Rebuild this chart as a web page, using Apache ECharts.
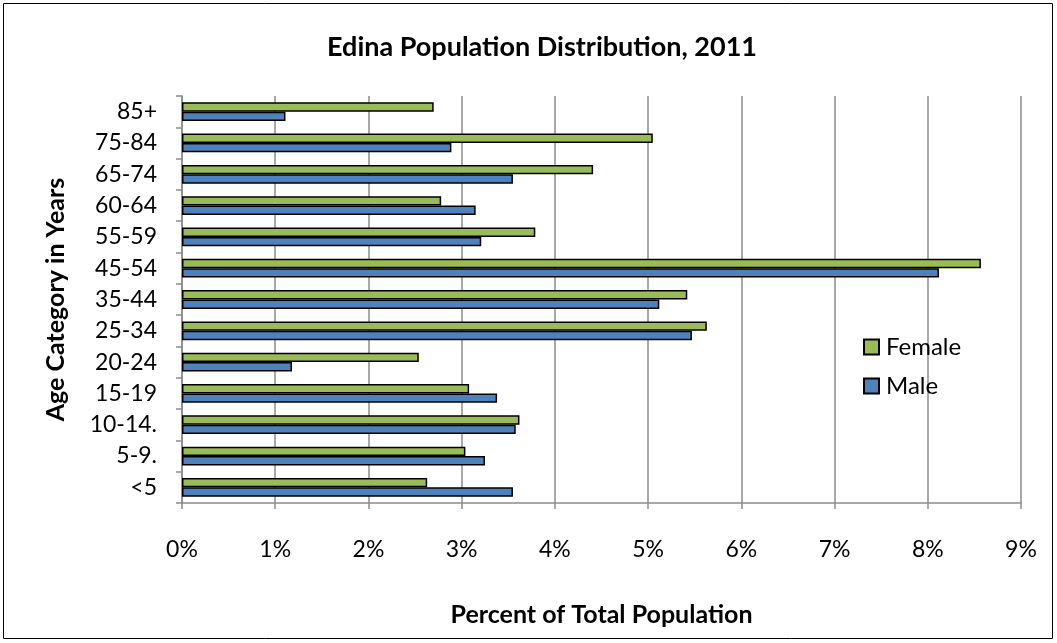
<!DOCTYPE html>
<html>
<head>
<meta charset="utf-8">
<script src="https://cdn.jsdelivr.net/npm/echarts@6/dist/echarts.min.js"></script>
<style>
  html, body { margin: 0; padding: 0; background: #fff; }
  #chart { width: 1057px; height: 643px; }
</style>
</head>
<body>
<div id="chart"></div>
<script>
// Age groups, bottom to top
const ageGroups = ['<5', '5-9.', '10-14.', '15-19', '20-24', '25-34', '35-44', '45-54', '55-59', '60-64', '65-74', '75-84', '85+'];
// Percent of total population
const female = [2.63, 3.04, 3.62, 3.08, 2.54, 5.63, 5.42, 8.57, 3.79, 2.78, 4.41, 5.05, 2.70];
const male   = [3.55, 3.25, 3.58, 3.38, 1.18, 5.47, 5.12, 8.12, 3.21, 3.15, 3.55, 2.89, 1.11];
const percentTicks = [0, 1, 2, 3, 4, 5, 6, 7, 8, 9];

const FONT = 'Lato, "Open Sans", sans-serif';
const GRID_GRAY = '#8c8c8c';

const chart = echarts.init(document.getElementById('chart'), null, { renderer: 'canvas' });

chart.setOption({
  animation: false,
  backgroundColor: '#ffffff',
  textStyle: { fontFamily: FONT, color: '#000' },
  title: {
    text: 'Edina Population Distribution, 2011',
    left: 537,
    top: 29,
    textAlign: 'center',
    textStyle: { fontFamily: FONT, fontSize: 27, fontWeight: 'bold', color: '#000' }
  },
  graphic: [{
    type: 'rect',
    shape: { x: 3.5, y: 3.5, width: 1049, height: 635 },
    style: { fill: 'none', stroke: '#000', lineWidth: 1 },
    silent: true
  }],
  legend: {
    orient: 'vertical',
    left: 858,
    top: 330,
    itemWidth: 15,
    itemHeight: 15,
    itemGap: 15,
    icon: 'rect',
    data: ['Female', 'Male'],
    textStyle: { fontFamily: FONT, fontSize: 24, color: '#000', padding: [0, 0, 0, 2] }
  },
  grid: { left: 182, right: 36, top: 96, bottom: 140, containLabel: false },
  xAxis: {
    type: 'value',
    min: percentTicks[0],
    max: percentTicks[percentTicks.length - 1],
    interval: 1,
    name: 'Percent of Total Population',
    nameLocation: 'middle',
    nameGap: 99,
    nameTextStyle: { fontFamily: FONT, fontSize: 25, fontWeight: 'bold', color: '#000' },
    axisLine: { show: true, lineStyle: { color: GRID_GRAY, width: 1.5 } },
    axisTick: { show: true, length: 6, lineStyle: { color: GRID_GRAY, width: 1.5 } },
    axisLabel: { formatter: '{value}%', fontSize: 23, margin: 35, color: '#000', fontFamily: FONT },
    splitLine: { show: true, lineStyle: { color: GRID_GRAY, width: 1.5 } }
  },
  yAxis: {
    type: 'category',
    data: ageGroups,
    name: 'Age Category in Years',
    nameLocation: 'middle',
    nameGap: 114,
    nameRotate: 90,
    nameTextStyle: { fontFamily: FONT, fontSize: 25, fontWeight: 'bold', color: '#000' },
    axisLine: { show: true, lineStyle: { color: GRID_GRAY, width: 1.5 } },
    axisTick: { show: true, length: 6, alignWithLabel: false, lineStyle: { color: GRID_GRAY, width: 1.5 } },
    axisLabel: { fontSize: 23, margin: 25, color: '#000', fontFamily: FONT },
    splitLine: { show: false }
  },
  series: [
    {
      name: 'Female',
      type: 'bar',
      data: female,
      barGap: '0%',
      barCategoryGap: '40%',
      itemStyle: { color: '#9BBB59', borderColor: '#000', borderWidth: 1.5 }
    },
    {
      name: 'Male',
      type: 'bar',
      data: male,
      barGap: '0%',
      barCategoryGap: '40%',
      itemStyle: { color: '#4F81BD', borderColor: '#000', borderWidth: 1.5 }
    }
  ]
});
</script>
</body>
</html>
